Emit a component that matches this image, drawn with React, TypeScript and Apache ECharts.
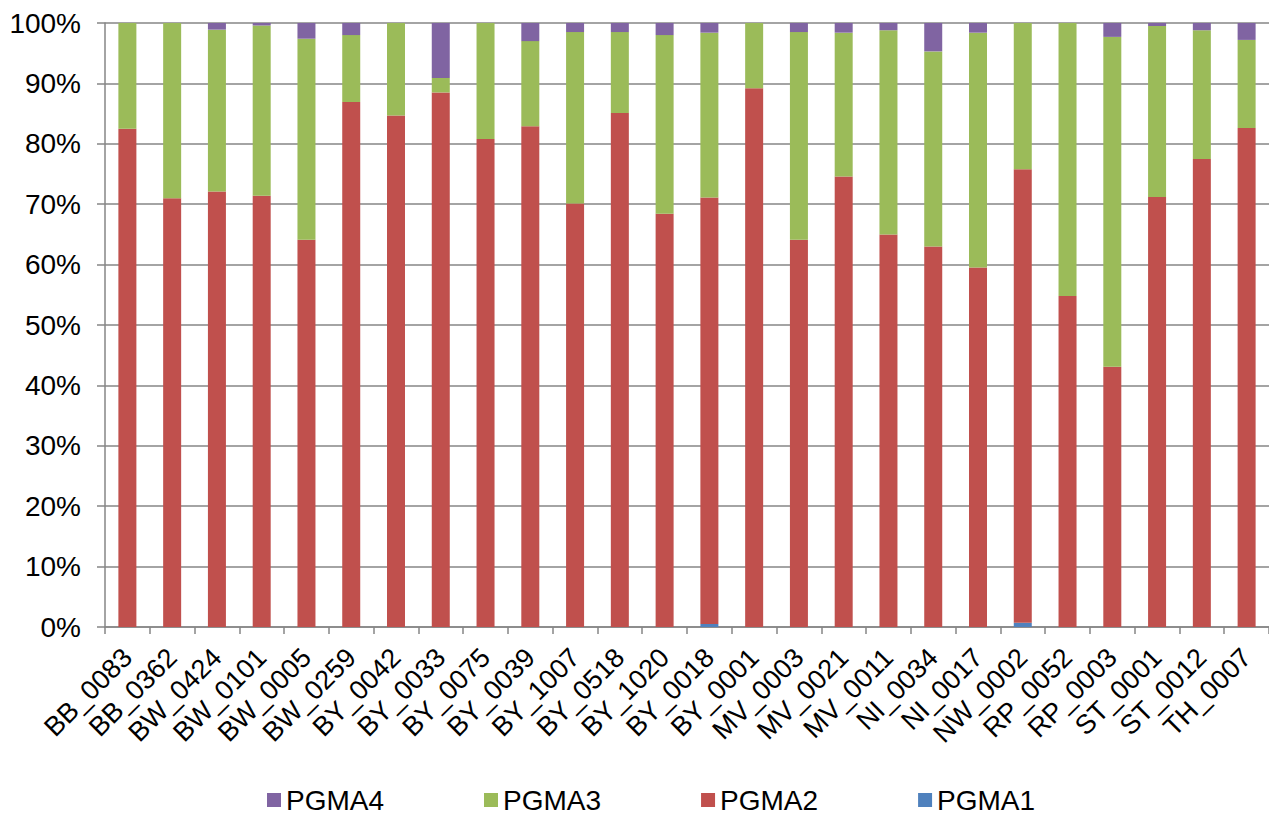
import React, { useEffect, useRef } from "react";
import * as echarts from "echarts";

const categories = [
  "BB_0083", "BB_0362", "BW_0424", "BW_0101", "BW_0005", "BW_0259", "BY_0042",
  "BY_0033", "BY_0075", "BY_0039", "BY_1007", "BY_0518", "BY_1020", "BY_0018",
  "BY_0001", "MV_0003", "MV_0021", "MV_0011", "NI_0034", "NI_0017", "NW_0002",
  "RP_0052", "RP_0003", "ST_0001", "ST_0012", "TH_0007",
];

const pgma1 = [0, 0, 0, 0, 0, 0, 0, 0, 0, 0, 0, 0, 0, 0.5, 0, 0, 0, 0, 0, 0, 0.7, 0, 0, 0, 0, 0];
const pgma2 = [82.5, 71.0, 72.1, 71.4, 64.1, 86.9, 84.7, 88.5, 80.8, 82.9, 70.1, 85.1, 68.4, 70.6, 89.2, 64.1, 74.6, 65.0, 63.0, 59.5, 75.1, 54.8, 43.1, 71.2, 77.5, 82.6];
const pgma3 = [17.5, 29.0, 26.8, 28.2, 33.3, 11.1, 15.3, 2.4, 19.2, 14.1, 28.4, 13.4, 29.6, 27.3, 10.8, 34.4, 23.8, 33.8, 32.3, 38.9, 24.2, 45.2, 54.6, 28.3, 21.3, 14.6];
const pgma4 = [0, 0, 1.1, 0.4, 2.6, 2.0, 0, 9.1, 0, 3.0, 1.5, 1.5, 2.0, 1.6, 0, 1.5, 1.6, 1.2, 4.7, 1.6, 0, 0, 2.3, 0.5, 1.2, 2.8];

const legendOrder = ["PGMA4", "PGMA3", "PGMA2", "PGMA1"];

const FONT = "'Liberation Sans', Arial, sans-serif";
const GRID_GREY = "#868686";

export default function App() {
  const ref = useRef<HTMLDivElement>(null);
  useEffect(() => {
    if (!ref.current) return;
    const chart = echarts.init(ref.current, null, { renderer: "svg" });
    const mk = (name: string, data: number[], color: string) => ({
      name,
      type: "bar",
      stack: "total",
      data,
      barWidth: 18,
      itemStyle: { color },
    });
    chart.setOption({
      animation: false,
      textStyle: { fontFamily: FONT },
      grid: { left: 105, right: 0, top: 23, bottom: 189, containLabel: false },
      legend: {
        data: legendOrder,
        left: 262,
        top: 780,
        itemWidth: 14,
        itemHeight: 14,
        itemGap: 100,
        icon: "rect",
        textStyle: { fontFamily: FONT, fontSize: 28, color: "#000", lineHeight: 30 },
      },
      xAxis: {
        type: "category",
        data: categories,
        axisLine: { lineStyle: { color: GRID_GREY, width: 1.5 } },
        axisTick: { show: true, length: 7, lineStyle: { color: GRID_GREY, width: 1.5 } },
        axisLabel: {
          interval: 0,
          rotate: 45,
          margin: 26,
          fontSize: 27,
          color: "#000",
          fontFamily: FONT,
        },
      },
      yAxis: {
        type: "value",
        min: 0,
        max: 100,
        interval: 10,
        axisLine: { show: true, lineStyle: { color: GRID_GREY, width: 1.5 } },
        axisTick: { show: true, length: 8, lineStyle: { color: GRID_GREY, width: 1.5 } },
        splitLine: { show: true, lineStyle: { color: GRID_GREY, width: 1.5 } },
        axisLabel: {
          formatter: "{value}%",
          fontSize: 28,
          color: "#000",
          margin: 24,
          fontFamily: FONT,
        },
      },
      series: [
        mk("PGMA1", pgma1, "#4F81BD"),
        mk("PGMA2", pgma2, "#C0504D"),
        mk("PGMA3", pgma3, "#9BBB59"),
        mk("PGMA4", pgma4, "#8064A2"),
      ],
    });
    return () => chart.dispose();
  }, []);
  return (
    <div
      ref={ref}
      style={{ position: "fixed", left: 0, top: 0, width: 1269, height: 816, background: "#fff" }}
    />
  );
}
